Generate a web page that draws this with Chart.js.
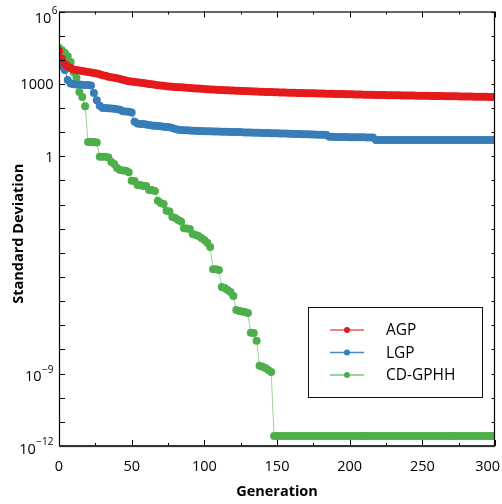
<!DOCTYPE html>
<html>
<head>
<meta charset="utf-8">
<script src="https://cdn.jsdelivr.net/npm/chart.js@4/dist/chart.umd.min.js"></script>
<style>
  html, body { margin: 0; padding: 0; background: #fff; }
</style>
</head>
<body>
<canvas id="myChart" width="502" height="504"></canvas>
<script>
// generation sampled every 2 steps
const generations = [
  0, 2, 4, 6, 8, 10, 12, 14, 16, 18,
  20, 22, 24, 26, 28, 30, 32, 34, 36, 38,
  40, 42, 44, 46, 48, 50, 52, 54, 56, 58,
  60, 62, 64, 66, 68, 70, 72, 74, 76, 78,
  80, 82, 84, 86, 88, 90, 92, 94, 96, 98,
  100, 102, 104, 106, 108, 110, 112, 114, 116, 118,
  120, 122, 124, 126, 128, 130, 132, 134, 136, 138,
  140, 142, 144, 146, 148, 150, 152, 154, 156, 158,
  160, 162, 164, 166, 168, 170, 172, 174, 176, 178,
  180, 182, 184, 186, 188, 190, 192, 194, 196, 198,
  200, 202, 204, 206, 208, 210, 212, 214, 216, 218,
  220, 222, 224, 226, 228, 230, 232, 234, 236, 238,
  240, 242, 244, 246, 248, 250, 252, 254, 256, 258,
  260, 262, 264, 266, 268, 270, 272, 274, 276, 278,
  280, 282, 284, 286, 288, 290, 292, 294, 296, 298,
  300
];

const agp = [
  2.3e4, 1.1e4, 6.7e3, 5.3e3, 4.6e3, 4.0e3, 3.8e3, 3.6e3, 3.4e3, 3.3e3,
  3.1e3, 3.0e3, 2.8e3, 2.7e3, 2.5e3, 2.3e3, 2.2e3, 2.0e3, 1.9e3, 1.8e3,
  1.7e3, 1.6e3, 1.5e3, 1.4e3, 1.3e3, 1260, 1210, 1170, 1120, 1080,
  1040, 1000, 960, 930, 890, 860, 840, 810, 790, 770,
  745, 730, 720, 705, 690, 680, 665, 650, 640, 630,
  617, 605, 593, 582, 571, 560, 555, 550, 545, 540,
  533, 527, 520, 513, 506, 499, 493, 488, 482, 476,
  471, 467, 462, 458, 454, 450, 446, 441, 437, 433,
  429, 426, 423, 420, 417, 414, 412, 409, 406, 404,
  401, 398, 395, 392, 389, 386, 383, 380, 378, 374,
  372, 369, 366, 364, 361, 359, 357, 355, 352, 350,
  348, 346, 344, 343, 341, 340, 337, 336, 334, 333,
  331, 330, 328, 327, 325, 324, 322, 321, 318, 317,
  316, 314, 313, 311, 310, 308, 307, 305, 303, 302,
  301, 299, 298, 296, 295, 294, 292, 291, 289, 288,
  286
];

const lgp = [
  1.3e4, 5.5e3, 3.8e3, 1.45e3, 1040, 960, 950, 940, 930, 910,
  900, 870, 420, 210, 125, 101, 100, 98, 95, 93,
  90, 85, 74, 72, 70, 66, 27, 23, 22, 22,
  21, 20, 19, 18.5, 18, 17.5, 17, 16.5, 16, 15,
  13.5, 12.5, 12.2, 12, 12, 11.8, 11.6, 11.5, 11.3, 11.2,
  11, 11, 10.9, 10.8, 10.7, 10.6, 10.5, 10.5, 10.4, 10.3,
  10.3, 10.2, 10.1, 10, 9.8, 9.7, 9.6, 9.5, 9.5, 9.4,
  9.3, 9.2, 9.2, 9.1, 9.0, 9.0, 8.9, 8.8, 8.8, 8.7,
  8.6, 8.5, 8.5, 8.4, 8.3, 8.2, 8.2, 8.1, 8.0, 7.9,
  7.9, 7.8, 7.7, 6.4, 6.4, 6.3, 6.3, 6.3, 6.3, 6.3,
  6.2, 6.2, 6.2, 6.2, 6.2, 6.2, 6.1, 6.1, 6.1, 4.8,
  4.8, 4.8, 4.8, 4.8, 4.8, 4.8, 4.8, 4.8, 4.8, 4.8,
  4.8, 4.8, 4.8, 4.8, 4.8, 4.7, 4.7, 4.7, 4.7, 4.7,
  4.7, 4.7, 4.7, 4.7, 4.7, 4.7, 4.7, 4.7, 4.7, 4.7,
  4.7, 4.7, 4.7, 4.7, 4.7, 4.7, 4.7, 4.7, 4.7, 4.7,
  4.7
];

const cdgphh = [
  3.1e4, 2.5e4, 1.9e4, 1.4e4, 8.1e3, 3.1e3, 1.8e3, 460, 290, 120,
  3.9, 3.9, 3.9, 3.7, 0.97, 0.97, 0.97, 0.9, 0.58, 0.48,
  0.33, 0.27, 0.26, 0.25, 0.22, 0.098, 0.095, 0.065, 0.065, 0.059,
  0.059, 0.040, 0.040, 0.037, 0.0145, 0.0117, 0.0106, 0.0056, 0.0052, 0.0031,
  0.0028, 0.0023, 0.0020, 0.00104, 0.00103, 0.00098, 6.1e-4, 5.5e-4, 5.0e-4, 4.1e-4,
  3.4e-4, 2.6e-4, 1.75e-4, 2.1e-5, 2.1e-5, 1.96e-5, 3.9e-6, 3.5e-6, 2.9e-6, 2.4e-6,
  1.64e-6, 4.3e-7, 3.9e-7, 3.7e-7, 3.6e-7, 3.2e-7, 4.9e-8, 4.8e-8, 2.3e-8, 2.1e-9,
  1.9e-9, 1.7e-9, 1.4e-9, 1.16e-9, 2.6e-12, 2.6e-12, 2.6e-12, 2.6e-12, 2.6e-12, 2.6e-12,
  2.6e-12, 2.6e-12, 2.6e-12, 2.6e-12, 2.6e-12, 2.6e-12, 2.6e-12, 2.6e-12, 2.6e-12, 2.6e-12,
  2.6e-12, 2.6e-12, 2.6e-12, 2.6e-12, 2.6e-12, 2.6e-12, 2.6e-12, 2.6e-12, 2.6e-12, 2.6e-12,
  2.6e-12, 2.6e-12, 2.6e-12, 2.6e-12, 2.6e-12, 2.6e-12, 2.6e-12, 2.6e-12, 2.6e-12, 2.6e-12,
  2.6e-12, 2.6e-12, 2.6e-12, 2.6e-12, 2.6e-12, 2.6e-12, 2.6e-12, 2.6e-12, 2.6e-12, 2.6e-12,
  2.6e-12, 2.6e-12, 2.6e-12, 2.6e-12, 2.6e-12, 2.6e-12, 2.6e-12, 2.6e-12, 2.6e-12, 2.6e-12,
  2.6e-12, 2.6e-12, 2.6e-12, 2.6e-12, 2.6e-12, 2.6e-12, 2.6e-12, 2.6e-12, 2.6e-12, 2.6e-12,
  2.6e-12, 2.6e-12, 2.6e-12, 2.6e-12, 2.6e-12, 2.6e-12, 2.6e-12, 2.6e-12, 2.6e-12, 2.6e-12,
  2.6e-12
];

const seriesNames = ['AGP', 'LGP', 'CD-GPHH'];
const xTickLabels = [0, 50, 100, 150, 200, 250, 300];
const xMinorTicks = [25, 75, 125, 175, 225, 275];
const yTickExps = [6, 3, 0, -9, -12];
const yTickLabels = ['10^6', '1000', '1', '10^\u22129', '10^\u221212'];
const yDecadeExps = [-12, -11, -10, -9, -8, -7, -6, -5, -4, -3, -2, -1, 0, 1, 2, 3, 4, 5, 6];

const FONT = '"Open Sans", "Noto Sans", sans-serif';

const toPoints = vals => generations.map((g, i) => ({ x: g, y: vals[i] }));

// frame, inward ticks, tick labels and axis titles
const frameTicks = {
  id: 'frameTicks',
  afterDatasetsDraw(chart) {
    const { ctx, chartArea: ca, scales: { x, y } } = chart;
    ctx.save();
    ctx.strokeStyle = '#000';
    ctx.lineWidth = 1;
    ctx.beginPath();
    xTickLabels.concat(xMinorTicks).forEach(v => {
      const px = Math.round(x.getPixelForValue(v)) + 0.5;
      const len = xTickLabels.includes(v) ? 6 : 3;
      ctx.moveTo(px, ca.bottom); ctx.lineTo(px, ca.bottom - len);
      ctx.moveTo(px, ca.top); ctx.lineTo(px, ca.top + len);
    });
    yDecadeExps.forEach(e => {
      const py = Math.round(y.getPixelForValue(Math.pow(10, e))) + 0.5;
      ctx.moveTo(ca.left, py); ctx.lineTo(ca.left + 6, py);
      ctx.moveTo(ca.right, py); ctx.lineTo(ca.right - 3.5, py);
    });
    ctx.stroke();

    // frame
    ctx.lineWidth = 1.2;
    ctx.strokeRect(ca.left + 0.5, ca.top + 0.5, ca.right - ca.left - 1, ca.bottom - ca.top);
    ctx.strokeStyle = '#333';
    ctx.lineWidth = 2;
    ctx.beginPath();
    ctx.moveTo(ca.left, ca.bottom); ctx.lineTo(ca.right, ca.bottom);
    ctx.stroke();

    // x tick labels
    ctx.fillStyle = '#000';
    ctx.font = '14.5px ' + FONT;
    ctx.textBaseline = 'alphabetic';
    ctx.textAlign = 'left';
    xTickLabels.forEach(v => {
      const s = String(v);
      const w = ctx.measureText(s).width;
      let px = x.getPixelForValue(v) - w / 2;
      if (px + w > chart.width - 2) px = chart.width - 2 - w;
      ctx.fillText(s, px, ca.bottom + 24.5);
    });

    // y tick labels
    yTickExps.forEach((e, i) => {
      const parts = yTickLabels[i].split('^');
      const py = y.getPixelForValue(Math.pow(10, e));
      ctx.font = '14.5px ' + FONT;
      const wb = ctx.measureText(parts[0]).width;
      let right = ca.left - 5.5;
      if (parts.length === 1) {
        ctx.fillText(parts[0], right - wb, py + 5.3);
        return;
      }
      ctx.font = '10px ' + FONT;
      const ws = ctx.measureText(parts[1]).width;
      let base = py + 7.5;
      if (base < ca.top + 11) { base = ca.top + 11; right = ca.left - 1.5; }
      ctx.font = '14.5px ' + FONT;
      ctx.fillText(parts[0], right - ws - wb - 0.5, base);
      ctx.font = '10px ' + FONT;
      ctx.fillText(parts[1], right - ws, base - 8.5);
    });

    // axis titles
    ctx.font = 'bold 14.5px ' + FONT;
    ctx.textAlign = 'center';
    ctx.fillText('Generation', (ca.left + ca.right) / 2, chart.height - 8.5);
    ctx.translate(22.5, (ca.top + ca.bottom) / 2 + 5);
    ctx.rotate(-Math.PI / 2);
    ctx.fillText('Standard Deviation', 0, 0);
    ctx.restore();
  }
};

// boxed legend inside the plot, lower right
const insetLegend = {
  id: 'insetLegend',
  afterDraw(chart) {
    const { ctx, chartArea: ca } = chart;
    const w = 174, h = 90;
    const x0 = ca.right - 13 - w, y0 = ca.bottom - 49 - h;
    ctx.save();
    ctx.fillStyle = '#fff';
    ctx.fillRect(x0, y0, w, h);
    ctx.strokeStyle = '#111';
    ctx.lineWidth = 1;
    ctx.strokeRect(x0 + 0.5, y0 + 0.5, w, h);
    chart.data.datasets.forEach((ds, i) => {
      const ly = y0 + 23 + i * 22.5;
      ctx.strokeStyle = ds.borderColor;
      ctx.lineWidth = i === 1 ? 1.3 : 2;
      ctx.beginPath();
      ctx.moveTo(x0 + 22, ly); ctx.lineTo(x0 + 56, ly);
      ctx.stroke();
      ctx.fillStyle = ds.pointBackgroundColor;
      ctx.beginPath();
      ctx.arc(x0 + 39, ly, 3, 0, 2 * Math.PI);
      ctx.fill();
      ctx.fillStyle = '#000';
      ctx.font = '15.5px ' + FONT;
      ctx.textBaseline = 'middle';
      ctx.fillText(ds.label, x0 + 78, ly + 1);
    });
    ctx.restore();
  }
};

const ctx = document.getElementById('myChart').getContext('2d');
const myChart = new Chart(ctx, {
  type: 'line',
  data: {
    datasets: [
      {
        label: seriesNames[0],
        data: toPoints(agp),
        borderColor: 'rgba(228, 26, 28, 0.55)',
        borderWidth: 1,
        pointRadius: 4,
        pointHoverRadius: 4,
        pointBorderWidth: 0,
        pointBackgroundColor: '#e41a1c',
      },
      {
        label: seriesNames[1],
        data: toPoints(lgp),
        borderColor: 'rgba(55, 126, 184, 0.9)',
        borderWidth: 1,
        pointRadius: 4,
        pointHoverRadius: 4,
        pointBorderWidth: 0,
        pointBackgroundColor: '#377eb8',
      },
      {
        label: seriesNames[2],
        data: toPoints(cdgphh),
        borderColor: 'rgba(77, 175, 74, 0.55)',
        borderWidth: 1,
        pointRadius: 4,
        pointHoverRadius: 4,
        pointBorderWidth: 0,
        pointBackgroundColor: '#4daf4a',
      }
    ]
  },
  options: {
    responsive: false,
    animation: false,
    layout: { padding: { top: 11.5, right: 7, left: 0, bottom: 0 } },
    plugins: {
      legend: { display: false },
      tooltip: { enabled: false }
    },
    scales: {
      x: {
        type: 'linear',
        min: 0,
        max: 300,
        ticks: { display: false },
        grid: { display: false },
        border: { display: false },
        afterFit: s => { s.height = 58; }
      },
      y: {
        type: 'logarithmic',
        min: 1e-12,
        max: 1e6,
        ticks: { display: false },
        grid: { display: false },
        border: { display: false },
        afterFit: s => { s.width = 59; }
      }
    }
  },
  plugins: [frameTicks, insetLegend]
});
</script>
</body>
</html>
